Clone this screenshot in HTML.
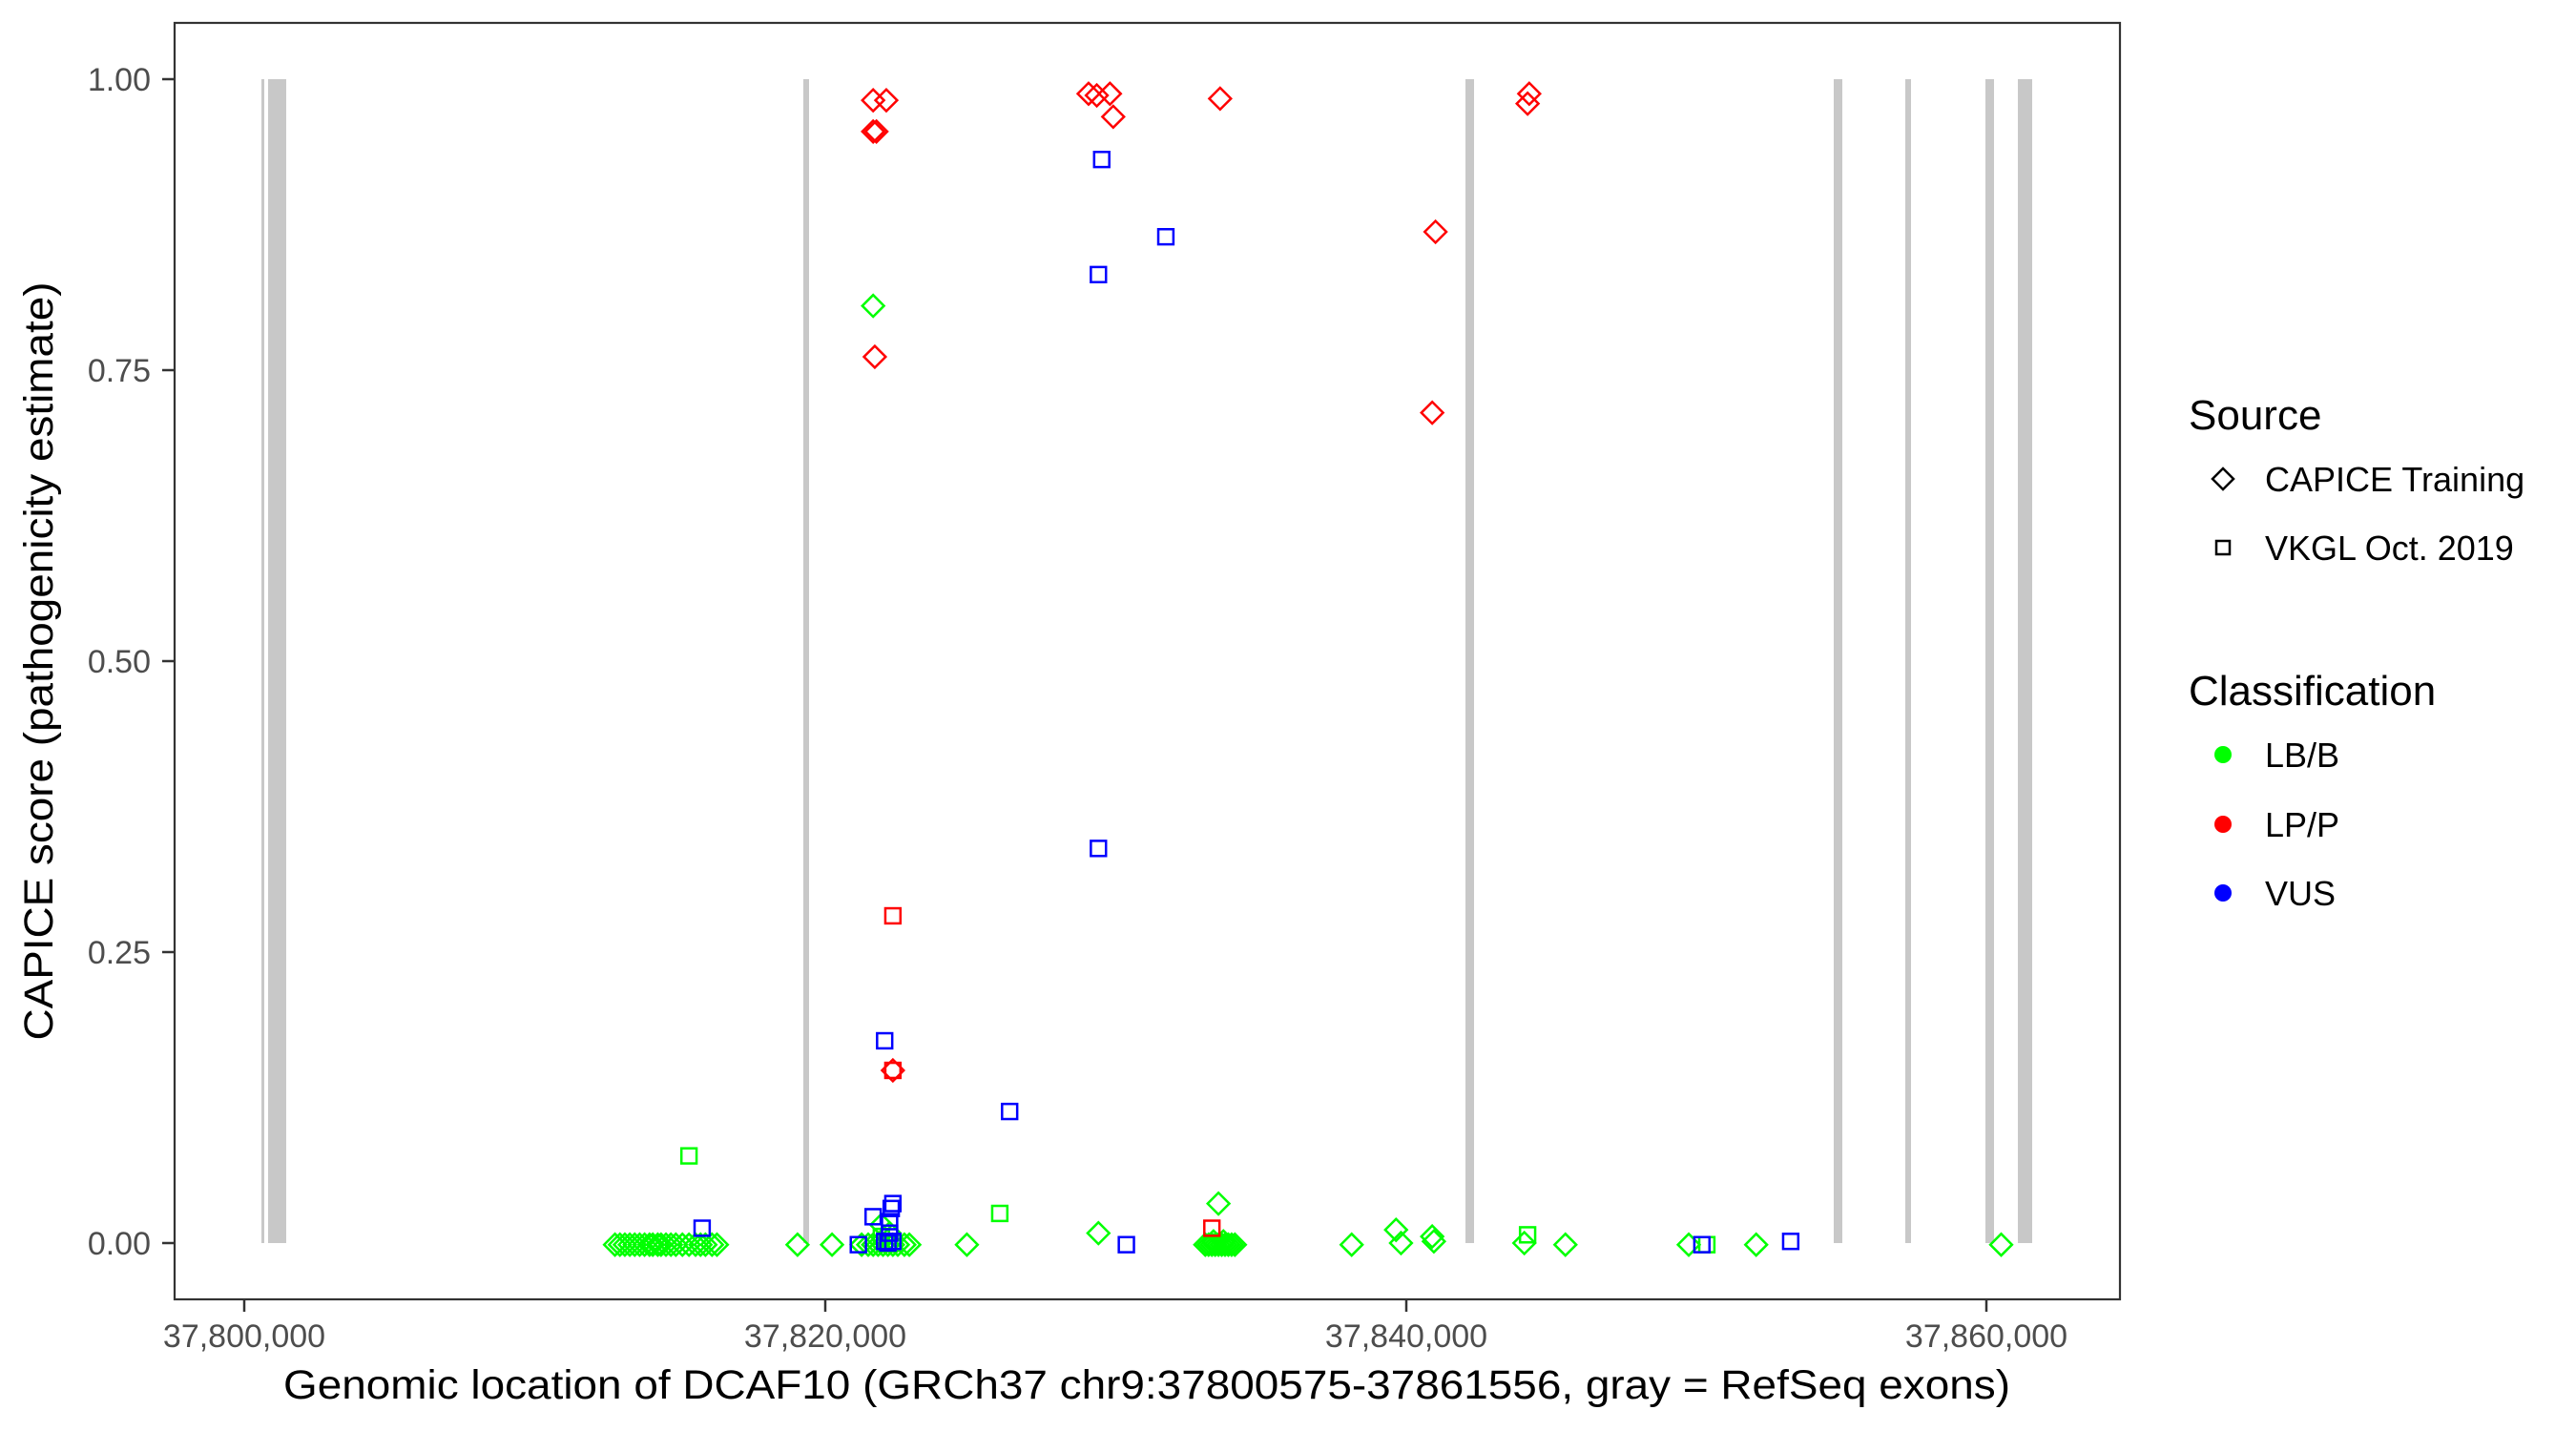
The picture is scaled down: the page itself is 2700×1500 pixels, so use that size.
<!DOCTYPE html>
<html><head><meta charset="utf-8"><style>
html,body{margin:0;padding:0;background:#fff;}
svg{display:block;font-family:"Liberation Sans",Arial,sans-serif;}
</style></head><body>
<svg width="2700" height="1500" viewBox="0 0 2700 1500" xmlns="http://www.w3.org/2000/svg">
<defs>
<path id="d" d="M0,-6.6 L6.6,0 L0,6.6 L-6.6,0Z" fill="none"/>
<rect id="s" x="-4.6" y="-4.6" width="9.2" height="9.2" fill="none"/>
</defs>
<rect x="0" y="0" width="2700" height="1500" fill="#fff"/>
<!-- exons -->
<g fill="#c8c8c8">
<rect x="274" y="83" width="3" height="1220"/>
<rect x="281" y="83" width="19" height="1220"/>
<rect x="842" y="83" width="6" height="1220"/>
<rect x="1536" y="83" width="9" height="1220"/>
<rect x="1922" y="83" width="9" height="1220"/>
<rect x="1997" y="83" width="6" height="1220"/>
<rect x="2081" y="83" width="9" height="1220"/>
<rect x="2115" y="83" width="15" height="1220"/>
</g>
<!-- points in thumbnail coords -->
<g transform="scale(1.7235)" stroke-width="1.45">
<g stroke="#00ff00">
<use href="#d" x="531" y="186"/>
<use href="#d" x="374" y="757"/><use href="#d" x="377" y="757"/><use href="#d" x="380" y="757"/><use href="#d" x="383" y="757"/><use href="#d" x="386" y="757"/><use href="#d" x="389" y="757"/><use href="#d" x="392" y="757"/><use href="#d" x="395" y="757"/><use href="#d" x="397" y="757"/><use href="#d" x="400" y="757"/><use href="#d" x="402" y="757"/><use href="#d" x="405" y="757"/><use href="#d" x="408" y="757"/><use href="#d" x="411" y="757"/><use href="#d" x="415" y="757"/><use href="#d" x="419" y="757"/><use href="#d" x="423" y="757"/><use href="#d" x="426" y="757"/><use href="#d" x="429" y="757"/><use href="#d" x="433" y="757"/><use href="#d" x="436" y="757"/>
<use href="#d" x="485" y="757"/><use href="#d" x="506" y="757"/>
<use href="#d" x="524" y="757"/><use href="#d" x="528" y="757"/><use href="#d" x="531" y="757"/><use href="#d" x="534" y="757"/><use href="#d" x="537" y="757"/><use href="#d" x="540" y="757"/><use href="#d" x="543" y="757"/><use href="#d" x="546" y="757"/><use href="#d" x="550" y="757"/><use href="#d" x="553" y="757"/><use href="#d" x="536" y="745"/><use href="#d" x="541" y="750"/>
<use href="#d" x="588" y="757"/><use href="#d" x="668" y="750"/>
<use href="#d" x="733" y="757"/><use href="#d" x="735" y="757"/><use href="#d" x="737" y="757"/><use href="#d" x="739" y="757"/><use href="#d" x="741" y="757"/><use href="#d" x="743" y="757"/><use href="#d" x="745" y="757"/><use href="#d" x="747" y="757"/><use href="#d" x="749" y="757"/><use href="#d" x="751" y="757"/><use href="#d" x="738" y="755"/><use href="#d" x="744" y="755"/>
<use href="#d" x="741" y="732"/>
<use href="#d" x="822" y="757"/><use href="#d" x="849" y="748"/><use href="#d" x="852" y="756"/><use href="#d" x="871" y="752"/><use href="#d" x="872" y="755"/><use href="#d" x="927" y="756"/><use href="#d" x="952" y="757"/><use href="#d" x="1027" y="757"/><use href="#d" x="1068" y="757"/><use href="#d" x="1217" y="757"/>
<use href="#s" x="419" y="703"/><use href="#s" x="608" y="738"/><use href="#s" x="929" y="751"/><use href="#s" x="1038" y="757"/><use href="#s" x="536" y="752"/>
</g>
<g stroke="#ff0000">
<use href="#d" x="531" y="61"/><use href="#d" x="539" y="61"/><use href="#d" x="531" y="80"/><use href="#d" x="533" y="80"/><use href="#d" x="532" y="217"/>
<use href="#d" x="662" y="57"/><use href="#d" x="667" y="58"/><use href="#d" x="675" y="57"/><use href="#d" x="677" y="71"/><use href="#d" x="742" y="60"/>
<use href="#d" x="873" y="141"/><use href="#d" x="871" y="251"/><use href="#d" x="930" y="57"/><use href="#d" x="929" y="63"/>
<use href="#d" x="543" y="651"/><use href="#s" x="543" y="651"/>
<use href="#s" x="543" y="557"/><use href="#s" x="737" y="747"/>
</g>
<g stroke="#0000ff">
<use href="#s" x="670" y="97"/><use href="#s" x="709" y="144"/><use href="#s" x="668" y="167"/><use href="#s" x="668" y="516"/><use href="#s" x="538" y="633"/><use href="#s" x="614" y="676"/><use href="#s" x="427" y="747"/><use href="#s" x="531" y="740"/><use href="#s" x="543" y="732"/><use href="#s" x="542" y="735"/><use href="#s" x="541" y="743"/><use href="#s" x="541" y="750"/><use href="#s" x="540" y="756"/><use href="#s" x="543" y="755"/><use href="#s" x="538" y="755"/><use href="#s" x="522" y="757"/><use href="#s" x="685" y="757"/><use href="#s" x="1035" y="757"/><use href="#s" x="1089" y="755"/>
</g>
</g>
<!-- panel -->
<rect x="183" y="24" width="2039" height="1338" fill="none" stroke="#333" stroke-width="2.2"/>
<!-- y ticks -->
<g stroke="#333" stroke-width="2.5">
<line x1="170" y1="83" x2="183" y2="83"/><line x1="170" y1="388" x2="183" y2="388"/><line x1="170" y1="693" x2="183" y2="693"/><line x1="170" y1="998" x2="183" y2="998"/><line x1="170" y1="1303" x2="183" y2="1303"/>
<line x1="256" y1="1362" x2="256" y2="1375"/><line x1="865" y1="1362" x2="865" y2="1375"/><line x1="1474" y1="1362" x2="1474" y2="1375"/><line x1="2082" y1="1362" x2="2082" y2="1375"/>
</g>
<g font-size="34" fill="#4d4d4d" text-anchor="end">
<text x="158" y="95">1.00</text><text x="158" y="400">0.75</text><text x="158" y="705">0.50</text><text x="158" y="1010">0.25</text><text x="158" y="1315">0.00</text>
</g>
<g font-size="34" fill="#4d4d4d" text-anchor="middle">
<text x="256" y="1412">37,800,000</text><text x="865" y="1412">37,820,000</text><text x="1474" y="1412">37,840,000</text><text x="2082" y="1412">37,860,000</text>
</g>
<text x="1202" y="1466" font-size="43" text-anchor="middle" textLength="1810" lengthAdjust="spacingAndGlyphs">Genomic location of DCAF10 (GRCh37 chr9:37800575-37861556, gray = RefSeq exons)</text>
<text transform="translate(55,693) rotate(-90)" font-size="43" text-anchor="middle" textLength="795" lengthAdjust="spacingAndGlyphs">CAPICE score (pathogenicity estimate)</text>
<!-- legend -->
<text x="2294" y="450" font-size="44">Source</text>
<g stroke="#000" stroke-width="2.5" fill="none">
<path d="M2330,491 L2341,502 L2330,513 L2319,502Z"/>
<rect x="2323" y="567" width="14" height="14"/>
</g>
<g font-size="36">
<text x="2374" y="515">CAPICE Training</text>
<text x="2374" y="587">VKGL Oct. 2019</text>
<text x="2374" y="804">LB/B</text>
<text x="2374" y="877">LP/P</text>
<text x="2374" y="949">VUS</text>
</g>
<text x="2294" y="739" font-size="44">Classification</text>
<circle cx="2330" cy="791" r="9" fill="#00ff00"/>
<circle cx="2330" cy="864" r="9" fill="#ff0000"/>
<circle cx="2330" cy="936" r="9" fill="#0000ff"/>
</svg>
</body></html>
